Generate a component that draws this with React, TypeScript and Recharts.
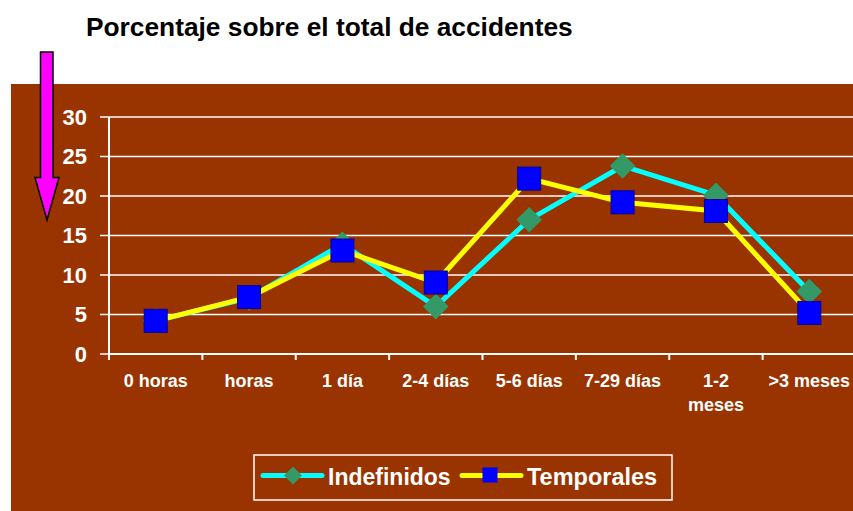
import { LineChart, Line, XAxis, YAxis, CartesianGrid } from "recharts"

// Categories (time off work) and series values
const categories = ["0 horas", "horas", "1 día", "2-4 días", "5-6 días", "7-29 días", "1-2 meses", ">3 meses"]
const tickLabels = ["0 horas", "horas", "1 día", "2-4 días", "5-6 días", "7-29 días", "1-2\nmeses", ">3 meses"]
const indefinidos = [4.2, 7.1, 13.9, 6, 17, 23.8, 20.1, 7.9]
const temporales = [4.2, 7.2, 13.1, 9.05, 22.2, 19.2, 18.1, 5.2]
const yTicks = [0, 5, 10, 15, 20, 25, 30]

const data = categories.map((name, i) => ({
  name,
  indefinidos: indefinidos[i],
  temporales: temporales[i],
}))

const FONT = "Arial, 'Liberation Sans', Helvetica, sans-serif"
const BROWN = "#993300"
const CHART_W = 860
const MARGIN = { top: 117, right: 4, bottom: 97, left: 0 }
const Y_AXIS_W = 109
const BAND = (CHART_W - MARGIN.left - MARGIN.right - Y_AXIS_W) / categories.length

function CategoryTick(props: any) {
  const { x, y, payload } = props
  const half = payload?.offset || BAND / 2
  const idx = categories.indexOf(payload?.value)
  const lines = String(idx >= 0 ? tickLabels[idx] : payload?.value).split("\n")
  return (
    <g>
      <line x1={x - half} y1={y} x2={x - half} y2={y + 6} stroke="#fff" strokeWidth={2} />
      <text x={x} y={y + 33} textAnchor="middle" fill="#fff" fontSize={18} fontWeight="bold" fontFamily={FONT}>
        {lines.map((l, i) => (
          <tspan key={i} x={x} dy={i === 0 ? 0 : 24}>
            {l}
          </tspan>
        ))}
      </text>
    </g>
  )
}

function Diamond(props: any) {
  const { cx, cy } = props
  if (cx == null || cy == null) return null
  const r = 12.8
  return (
    <polygon
      points={`${cx},${cy - r} ${cx + r},${cy} ${cx},${cy + r} ${cx - r},${cy}`}
      fill="#339966"
    />
  )
}

function Square(props: any) {
  const { cx, cy } = props
  if (cx == null || cy == null) return null
  const s = 23
  return <rect x={cx - s / 2} y={cy - s / 2} width={s} height={s} fill="#0000FF" stroke="#000099" strokeWidth={1} />
}

export default function App() {
  return (
    <div
      style={{
        position: "absolute",
        left: 0,
        top: 0,
        width: 853,
        height: 511,
        overflow: "hidden",
        background: "#fff",
        fontFamily: FONT,
      }}
    >
      <div style={{ position: "absolute", left: 11, top: 84, width: 860, height: 440, background: BROWN }} />

      <div style={{ position: "absolute", left: 0, top: 0 }}>
        <LineChart width={CHART_W} height={511} data={data} margin={MARGIN}>
          <CartesianGrid horizontal vertical={false} stroke="#fff" strokeWidth={1.5} />
          <XAxis
            dataKey="name"
            scale="band"
            interval={0}
            height={60}
            tickLine={false}
            tickSize={0}
            tickMargin={0}
            axisLine={{ stroke: "#fff", strokeWidth: 2 }}
            tick={<CategoryTick />}
          />
          <YAxis
            domain={[0, 30]}
            ticks={yTicks}
            width={Y_AXIS_W}
            tickSize={9}
            tickMargin={13}
            axisLine={{ stroke: "#fff", strokeWidth: 2 }}
            tickLine={{ stroke: "#fff", strokeWidth: 1.5 }}
            tick={{ fill: "#fff", fontSize: 22, fontWeight: "bold", fontFamily: FONT }}
          />
          <Line
            type="linear"
            dataKey="indefinidos"
            name="Indefinidos"
            stroke="#00FFFF"
            strokeWidth={5}
            dot={<Diamond />}
            activeDot={false}
            isAnimationActive={false}
          />
          <Line
            type="linear"
            dataKey="temporales"
            name="Temporales"
            stroke="#FFFF00"
            strokeWidth={5}
            dot={<Square />}
            activeDot={false}
            isAnimationActive={false}
          />
        </LineChart>
      </div>

      <svg width={853} height={511} style={{ position: "absolute", left: 0, top: 0, pointerEvents: "none" }}>
        <text x={86} y={36} fontSize={26.3} fontWeight="bold" fill="#000" fontFamily={FONT}>
          Porcentaje sobre el total de accidentes
        </text>
        {/* magenta arrow */}
        <polygon
          points="40.5,52 53,52 53,177.5 59,177.5 47,220 35,177.5 40.5,177.5"
          fill="#FF00FF"
          stroke="#000"
          strokeWidth={1.5}
        />
        {/* legend */}
        <rect x={254} y={455} width={418} height={45} fill="none" stroke="#fff" strokeWidth={1.5} />
        <line x1={263} y1={475.5} x2={322} y2={475.5} stroke="#00FFFF" strokeWidth={5} strokeLinecap="round" />
        <polygon points="293,466.5 302,475.5 293,484.5 284,475.5" fill="#339966" />
        <text x={328} y={485} fontSize={23} fontWeight="bold" fill="#fff" fontFamily={FONT}>
          Indefinidos
        </text>
        <line x1={462} y1={475.5} x2={521} y2={475.5} stroke="#FFFF00" strokeWidth={5} strokeLinecap="round" />
        <rect x={482.5} y={467.5} width={15} height={15} fill="#0000FF" />
        <text x={527} y={485} fontSize={23.5} fontWeight="bold" fill="#fff" fontFamily={FONT}>
          Temporales
        </text>
      </svg>
    </div>
  )
}
